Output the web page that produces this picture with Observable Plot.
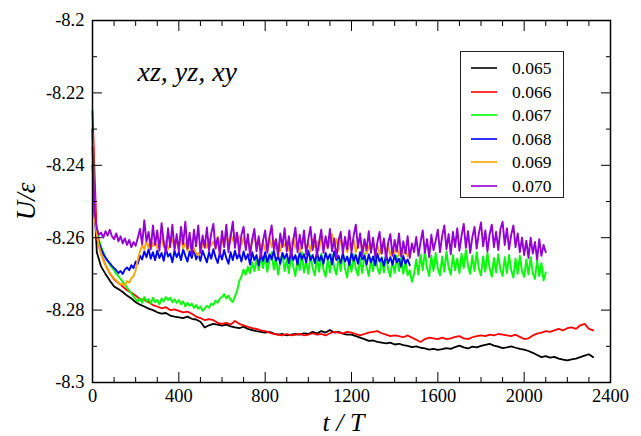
<!DOCTYPE html>
<html>
<head>
<meta charset="utf-8">
<script src="https://cdn.jsdelivr.net/npm/d3@7"></script>
<script src="https://cdn.jsdelivr.net/npm/@observablehq/plot@0.6"></script>
<style>
  html, body { margin: 0; padding: 0; background: #fff; }
  #wrap { position: relative; width: 641px; height: 436px; font-family: "Liberation Serif", "DejaVu Serif", serif; }
  #legend { position: absolute; left: 460px; top: 51px; width: 104px; height: 147px; border: 1.5px solid #222; background: #fff; box-sizing: border-box; }
  .entry { position: absolute; left: 0; height: 20px; display: flex; align-items: center; }
  .sw { display: block; margin-left: 10px; }
  .lab { margin-left: 15px; font-size: 17.5px; color: #000; }
</style>
</head>
<body>
<div id="wrap"><div id="legend"></div></div>
<script>
// ---- data ----
const seriesLabels = ["0.065", "0.066", "0.067", "0.068", "0.069", "0.070"];
const seriesColors = ["#000000", "#ff0000", "#00ff00", "#0000ff", "#ffa500", "#9400d3"];
const seriesStep = [20, 20, 10, 10, 10, 10]; // sampling interval (t/T) of each value list
const seriesWidth = [1.8, 1.8, 1.9, 1.9, 1.9, 1.9];

const u065 = [
-8.2400,-8.2640,-8.2680,-8.2700,-8.2718,-8.2735,-8.2742,-8.2750,-8.2760,-8.2768,
-8.2778,-8.2785,-8.2790,-8.2796,-8.2800,-8.2806,-8.2810,-8.2808,-8.2815,-8.2818,
-8.2820,-8.2822,-8.2818,-8.2824,-8.2826,-8.2832,-8.2848,-8.2842,-8.2838,-8.2840,
-8.2843,-8.2840,-8.2845,-8.2848,-8.2850,-8.2846,-8.2852,-8.2855,-8.2858,-8.2860,
-8.2862,-8.2860,-8.2865,-8.2868,-8.2866,-8.2870,-8.2868,-8.2866,-8.2868,-8.2864,
-8.2866,-8.2860,-8.2865,-8.2858,-8.2862,-8.2855,-8.2862,-8.2860,-8.2865,-8.2868,
-8.2868,-8.2872,-8.2876,-8.2880,-8.2885,-8.2884,-8.2888,-8.2890,-8.2892,-8.2890,
-8.2895,-8.2893,-8.2897,-8.2899,-8.2902,-8.2900,-8.2904,-8.2906,-8.2909,-8.2907,
-8.2910,-8.2908,-8.2905,-8.2907,-8.2902,-8.2898,-8.2903,-8.2906,-8.2901,-8.2903,
-8.2899,-8.2896,-8.2893,-8.2898,-8.2901,-8.2905,-8.2903,-8.2900,-8.2904,-8.2907,
-8.2909,-8.2913,-8.2918,-8.2924,-8.2930,-8.2927,-8.2931,-8.2929,-8.2934,-8.2937,
-8.2939,-8.2936,-8.2934,-8.2930,-8.2926,-8.2922,-8.2930];

const u066 = [
-8.2250,-8.2600,-8.2645,-8.2675,-8.2698,-8.2715,-8.2725,-8.2735,-8.2745,-8.2752,
-8.2760,-8.2770,-8.2772,-8.2778,-8.2786,-8.2790,-8.2795,-8.2792,-8.2800,-8.2798,
-8.2802,-8.2806,-8.2804,-8.2810,-8.2818,-8.2822,-8.2828,-8.2825,-8.2828,-8.2835,
-8.2838,-8.2835,-8.2840,-8.2830,-8.2838,-8.2842,-8.2846,-8.2850,-8.2852,-8.2856,
-8.2858,-8.2862,-8.2866,-8.2868,-8.2870,-8.2866,-8.2870,-8.2868,-8.2866,-8.2870,
-8.2868,-8.2864,-8.2868,-8.2866,-8.2870,-8.2864,-8.2860,-8.2862,-8.2864,-8.2860,
-8.2862,-8.2866,-8.2870,-8.2866,-8.2862,-8.2860,-8.2858,-8.2864,-8.2868,-8.2872,
-8.2870,-8.2872,-8.2875,-8.2870,-8.2876,-8.2882,-8.2888,-8.2880,-8.2876,-8.2878,
-8.2880,-8.2876,-8.2880,-8.2878,-8.2874,-8.2872,-8.2878,-8.2880,-8.2875,-8.2872,
-8.2870,-8.2872,-8.2868,-8.2870,-8.2866,-8.2868,-8.2870,-8.2872,-8.2868,-8.2874,
-8.2880,-8.2878,-8.2870,-8.2865,-8.2862,-8.2858,-8.2860,-8.2856,-8.2852,-8.2856,
-8.2850,-8.2848,-8.2852,-8.2842,-8.2838,-8.2852,-8.2856];

const u067 = [
-8.2300,-8.2540,-8.2585,-8.2605,-8.2625,-8.2640,-8.2655,-8.2662,-8.2675,-8.2682,
-8.2690,-8.2700,-8.2706,-8.2714,-8.2722,-8.2728,-8.2738,-8.2746,-8.2754,-8.2762,
-8.2770,-8.2776,-8.2768,-8.2780,-8.2764,-8.2776,-8.2770,-8.2782,-8.2766,-8.2778,
-8.2772,-8.2784,-8.2768,-8.2776,-8.2764,-8.2772,-8.2766,-8.2778,-8.2770,-8.2780,
-8.2772,-8.2784,-8.2776,-8.2790,-8.2780,-8.2788,-8.2782,-8.2794,-8.2786,-8.2796,
-8.2790,-8.2802,-8.2796,-8.2788,-8.2794,-8.2782,-8.2786,-8.2774,-8.2780,-8.2768,
-8.2764,-8.2756,-8.2768,-8.2760,-8.2772,-8.2778,-8.2762,-8.2746,-8.2720,-8.2708,
-8.2688,-8.2702,-8.2680,-8.2698,-8.2668,-8.2692,-8.2660,-8.2690,-8.2652,-8.2684,
-8.2650,-8.2694,-8.2662,-8.2640,-8.2688,-8.2656,-8.2702,-8.2664,-8.2644,-8.2692,
-8.2660,-8.2698,-8.2646,-8.2680,-8.2706,-8.2654,-8.2690,-8.2640,-8.2696,-8.2664,
-8.2700,-8.2648,-8.2684,-8.2704,-8.2656,-8.2694,-8.2644,-8.2688,-8.2708,-8.2660,
-8.2696,-8.2646,-8.2682,-8.2702,-8.2654,-8.2692,-8.2640,-8.2686,-8.2710,-8.2656,
-8.2694,-8.2646,-8.2686,-8.2704,-8.2658,-8.2698,-8.2644,-8.2682,-8.2706,-8.2660,
-8.2692,-8.2640,-8.2684,-8.2700,-8.2654,-8.2696,-8.2648,-8.2688,-8.2708,-8.2662,
-8.2698,-8.2650,-8.2692,-8.2656,-8.2700,-8.2664,-8.2704,-8.2690,-8.2722,-8.2700,
-8.2660,-8.2702,-8.2646,-8.2690,-8.2636,-8.2684,-8.2706,-8.2650,-8.2692,-8.2642,
-8.2686,-8.2704,-8.2652,-8.2694,-8.2638,-8.2682,-8.2702,-8.2648,-8.2690,-8.2658,
-8.2698,-8.2644,-8.2684,-8.2634,-8.2678,-8.2700,-8.2650,-8.2692,-8.2640,-8.2686,
-8.2704,-8.2652,-8.2694,-8.2642,-8.2684,-8.2708,-8.2656,-8.2696,-8.2646,-8.2688,
-8.2706,-8.2654,-8.2698,-8.2648,-8.2690,-8.2710,-8.2658,-8.2700,-8.2650,-8.2694,
-8.2708,-8.2660,-8.2702,-8.2654,-8.2698,-8.2714,-8.2662,-8.2706,-8.2670,-8.2718,
-8.2696];

const u068 = [
-8.2300,-8.2545,-8.2590,-8.2615,-8.2630,-8.2645,-8.2655,-8.2664,-8.2670,-8.2678,
-8.2684,-8.2690,-8.2698,-8.2692,-8.2700,-8.2688,-8.2682,-8.2690,-8.2676,-8.2684,
-8.2666,-8.2672,-8.2650,-8.2660,-8.2638,-8.2654,-8.2632,-8.2658,-8.2640,-8.2662,
-8.2636,-8.2656,-8.2642,-8.2664,-8.2630,-8.2652,-8.2644,-8.2668,-8.2636,-8.2654,
-8.2640,-8.2662,-8.2632,-8.2650,-8.2666,-8.2638,-8.2656,-8.2630,-8.2660,-8.2644,
-8.2664,-8.2636,-8.2652,-8.2668,-8.2640,-8.2658,-8.2632,-8.2654,-8.2670,-8.2642,
-8.2660,-8.2634,-8.2656,-8.2672,-8.2640,-8.2662,-8.2636,-8.2658,-8.2644,-8.2666,
-8.2638,-8.2660,-8.2646,-8.2674,-8.2640,-8.2662,-8.2648,-8.2676,-8.2644,-8.2664,
-8.2640,-8.2668,-8.2646,-8.2660,-8.2636,-8.2664,-8.2650,-8.2672,-8.2642,-8.2658,
-8.2644,-8.2670,-8.2638,-8.2662,-8.2648,-8.2674,-8.2640,-8.2660,-8.2646,-8.2668,
-8.2636,-8.2662,-8.2648,-8.2670,-8.2640,-8.2664,-8.2650,-8.2672,-8.2642,-8.2660,
-8.2646,-8.2674,-8.2638,-8.2662,-8.2650,-8.2670,-8.2644,-8.2666,-8.2652,-8.2676,
-8.2642,-8.2664,-8.2648,-8.2672,-8.2640,-8.2660,-8.2650,-8.2674,-8.2646,-8.2668,
-8.2652,-8.2676,-8.2644,-8.2666,-8.2656,-8.2678,-8.2648,-8.2670,-8.2654,-8.2674,
-8.2648,-8.2668,-8.2658,-8.2680,-8.2650,-8.2672,-8.2660,-8.2676];

const u069 = [
-8.2310,-8.2545,-8.2592,-8.2622,-8.2645,-8.2662,-8.2676,-8.2688,-8.2696,-8.2705,
-8.2712,-8.2718,-8.2724,-8.2730,-8.2726,-8.2732,-8.2720,-8.2724,-8.2712,-8.2706,
-8.2690,-8.2660,-8.2638,-8.2620,-8.2632,-8.2610,-8.2628,-8.2604,-8.2624,-8.2608,
-8.2630,-8.2612,-8.2600,-8.2626,-8.2608,-8.2632,-8.2616,-8.2602,-8.2628,-8.2610,
-8.2624,-8.2604,-8.2630,-8.2614,-8.2636,-8.2618,-8.2606,-8.2632,-8.2642,-8.2650,
-8.2636,-8.2620,-8.2608,-8.2628,-8.2602,-8.2622,-8.2610,-8.2630,-8.2598,-8.2618,
-8.2604,-8.2626,-8.2594,-8.2614,-8.2590,-8.2608,-8.2586,-8.2612,-8.2596,-8.2620,
-8.2600,-8.2624,-8.2606,-8.2630,-8.2610,-8.2596,-8.2622,-8.2604,-8.2628,-8.2612,
-8.2634,-8.2614,-8.2600,-8.2626,-8.2608,-8.2632,-8.2616,-8.2638,-8.2606,-8.2624,
-8.2610,-8.2636,-8.2618,-8.2602,-8.2628,-8.2612,-8.2640,-8.2620,-8.2608,-8.2630,
-8.2614,-8.2638,-8.2604,-8.2626,-8.2610,-8.2634,-8.2596,-8.2622,-8.2606,-8.2630,
-8.2612,-8.2590,-8.2624,-8.2604,-8.2636,-8.2598,-8.2626,-8.2610,-8.2640,-8.2616,
-8.2630,-8.2606,-8.2640,-8.2618,-8.2600,-8.2632,-8.2614,-8.2644,-8.2622,-8.2636,
-8.2612,-8.2640,-8.2620,-8.2646,-8.2626,-8.2608,-8.2638,-8.2622,-8.2648,-8.2630,
-8.2642,-8.2624,-8.2650,-8.2632,-8.2646,-8.2628,-8.2652,-8.2640];

const u070 = [
-8.2350,-8.2530,-8.2575,-8.2592,-8.2586,-8.2600,-8.2582,-8.2594,-8.2578,-8.2596,
-8.2604,-8.2588,-8.2610,-8.2596,-8.2616,-8.2602,-8.2620,-8.2606,-8.2626,-8.2612,
-8.2622,-8.2600,-8.2576,-8.2618,-8.2552,-8.2610,-8.2584,-8.2632,-8.2566,-8.2620,
-8.2580,-8.2636,-8.2560,-8.2612,-8.2640,-8.2574,-8.2626,-8.2564,-8.2634,-8.2590,
-8.2638,-8.2570,-8.2618,-8.2556,-8.2630,-8.2586,-8.2646,-8.2578,-8.2624,-8.2566,
-8.2642,-8.2594,-8.2628,-8.2572,-8.2636,-8.2588,-8.2562,-8.2630,-8.2600,-8.2648,
-8.2582,-8.2626,-8.2564,-8.2640,-8.2596,-8.2556,-8.2628,-8.2586,-8.2644,-8.2592,
-8.2570,-8.2634,-8.2590,-8.2650,-8.2604,-8.2576,-8.2638,-8.2596,-8.2654,-8.2608,
-8.2580,-8.2642,-8.2598,-8.2566,-8.2632,-8.2604,-8.2652,-8.2588,-8.2626,-8.2574,
-8.2638,-8.2596,-8.2654,-8.2608,-8.2572,-8.2640,-8.2592,-8.2630,-8.2580,-8.2646,
-8.2604,-8.2570,-8.2634,-8.2590,-8.2650,-8.2612,-8.2578,-8.2642,-8.2596,-8.2628,
-8.2576,-8.2638,-8.2602,-8.2656,-8.2608,-8.2584,-8.2644,-8.2598,-8.2632,-8.2580,
-8.2640,-8.2594,-8.2564,-8.2628,-8.2588,-8.2648,-8.2604,-8.2634,-8.2582,-8.2642,
-8.2600,-8.2654,-8.2612,-8.2584,-8.2644,-8.2602,-8.2658,-8.2614,-8.2590,-8.2650,
-8.2606,-8.2638,-8.2588,-8.2652,-8.2610,-8.2644,-8.2596,-8.2656,-8.2616,-8.2640,
-8.2598,-8.2650,-8.2612,-8.2580,-8.2642,-8.2604,-8.2654,-8.2592,-8.2634,-8.2608,
-8.2578,-8.2640,-8.2596,-8.2566,-8.2632,-8.2590,-8.2646,-8.2584,-8.2626,-8.2574,
-8.2636,-8.2594,-8.2562,-8.2628,-8.2582,-8.2642,-8.2598,-8.2570,-8.2630,-8.2588,
-8.2558,-8.2624,-8.2580,-8.2638,-8.2590,-8.2564,-8.2626,-8.2584,-8.2634,-8.2576,
-8.2556,-8.2620,-8.2574,-8.2632,-8.2592,-8.2566,-8.2626,-8.2588,-8.2640,-8.2600,
-8.2648,-8.2608,-8.2656,-8.2600,-8.2644,-8.2612,-8.2660,-8.2604,-8.2650,-8.2620,
-8.2640];

const xMajorTicks = [0, 400, 800, 1200, 1600, 2000, 2400];
const xMinorTicks = [100, 200, 300, 500, 600, 700, 900, 1000, 1100, 1300, 1400, 1500, 1700, 1800, 1900, 2100, 2200, 2300];
const yMajorTicks = [-8.3, -8.28, -8.26, -8.24, -8.22, -8.2];
const yMinorTicks = [-8.29, -8.27, -8.25, -8.23, -8.21];

// ---- build table ----
const allValues = [u065, u066, u067, u068, u069, u070];
const rows = allValues.flatMap((vals, k) => vals.map((u, i) => ({t: i * seriesStep[k], u, s: seriesLabels[k]})));

const font = "Liberation Serif";
const noText = () => "";

const chart = Plot.plot({
  width: 641, height: 436,
  marginLeft: 92, marginRight: 31, marginTop: 20, marginBottom: 54,
  style: {fontFamily: font, background: "transparent", color: "black"},
  x: {domain: [0, 2400], label: null},
  y: {domain: [-8.3, -8.2], label: null},
  color: {domain: seriesLabels, range: seriesColors},
  marks: [
    ...seriesLabels.map((lab, k) =>
      Plot.line(rows.filter(r => r.s === lab), {x: "t", y: "u", stroke: "s", strokeWidth: seriesWidth[k], strokeLinejoin: "round"})),
    // bottom axis
    Plot.axisX(xMajorTicks, {anchor: "bottom", tickSize: -10, tickFormat: noText, label: null}),
    Plot.axisX(xMinorTicks, {anchor: "bottom", tickSize: -5, tickFormat: noText, label: null}),
    Plot.axisX(xMajorTicks, {anchor: "bottom", tickSize: 0, tickPadding: 6, tickFormat: d => String(d), fontSize: 18.5, label: null}),
    // top axis
    Plot.axisX(xMajorTicks, {anchor: "top", tickSize: -10, tickFormat: noText, label: null}),
    Plot.axisX(xMinorTicks, {anchor: "top", tickSize: -5, tickFormat: noText, label: null}),
    // left axis
    Plot.axisY(yMajorTicks, {anchor: "left", tickSize: -10, tickFormat: noText, label: null}),
    Plot.axisY(yMinorTicks, {anchor: "left", tickSize: -5, tickFormat: noText, label: null}),
    Plot.axisY(yMajorTicks, {anchor: "left", tickSize: 0, tickPadding: 8, tickFormat: d => String(d), fontSize: 18.5, label: null}),
    // right axis
    Plot.axisY(yMajorTicks, {anchor: "right", tickSize: -10, tickFormat: noText, label: null}),
    Plot.axisY(yMinorTicks, {anchor: "right", tickSize: -5, tickFormat: noText, label: null}),
    Plot.frame({stroke: "black", strokeWidth: 1.5}),
    // axis titles and annotation
    Plot.text(["t / T"], {frameAnchor: "bottom", dx: -8, dy: 48, lineAnchor: "bottom", textAnchor: "middle", fontSize: 26, fontStyle: "italic", fill: "black"}),
    Plot.text(["U/ε"], {frameAnchor: "left", dx: -66, rotate: -90, textAnchor: "middle", lineAnchor: "middle", fontSize: 27, fontStyle: "italic", fill: "black"}),
    Plot.text(["xz, yz, xy"], {frameAnchor: "top-left", dx: 45, dy: 41, textAnchor: "start", lineAnchor: "top", fontSize: 28, fontStyle: "italic", fill: "black"})
  ]
});

const wrap = document.getElementById("wrap");
wrap.insertBefore(chart, wrap.firstChild);

// legend
const legend = document.getElementById("legend");
seriesLabels.forEach((lab, i) => {
  const e = document.createElement("div");
  e.className = "entry";
  e.style.top = Math.round(6 + i * 23.5) + "px";
  e.innerHTML = `<svg class="sw" width="26" height="4"><line x1="0" x2="26" y1="2" y2="2" stroke="${seriesColors[i]}" stroke-width="1.6"></line></svg><div class="lab">${lab}</div>`;
  legend.appendChild(e);
});
</script>
</body>
</html>
